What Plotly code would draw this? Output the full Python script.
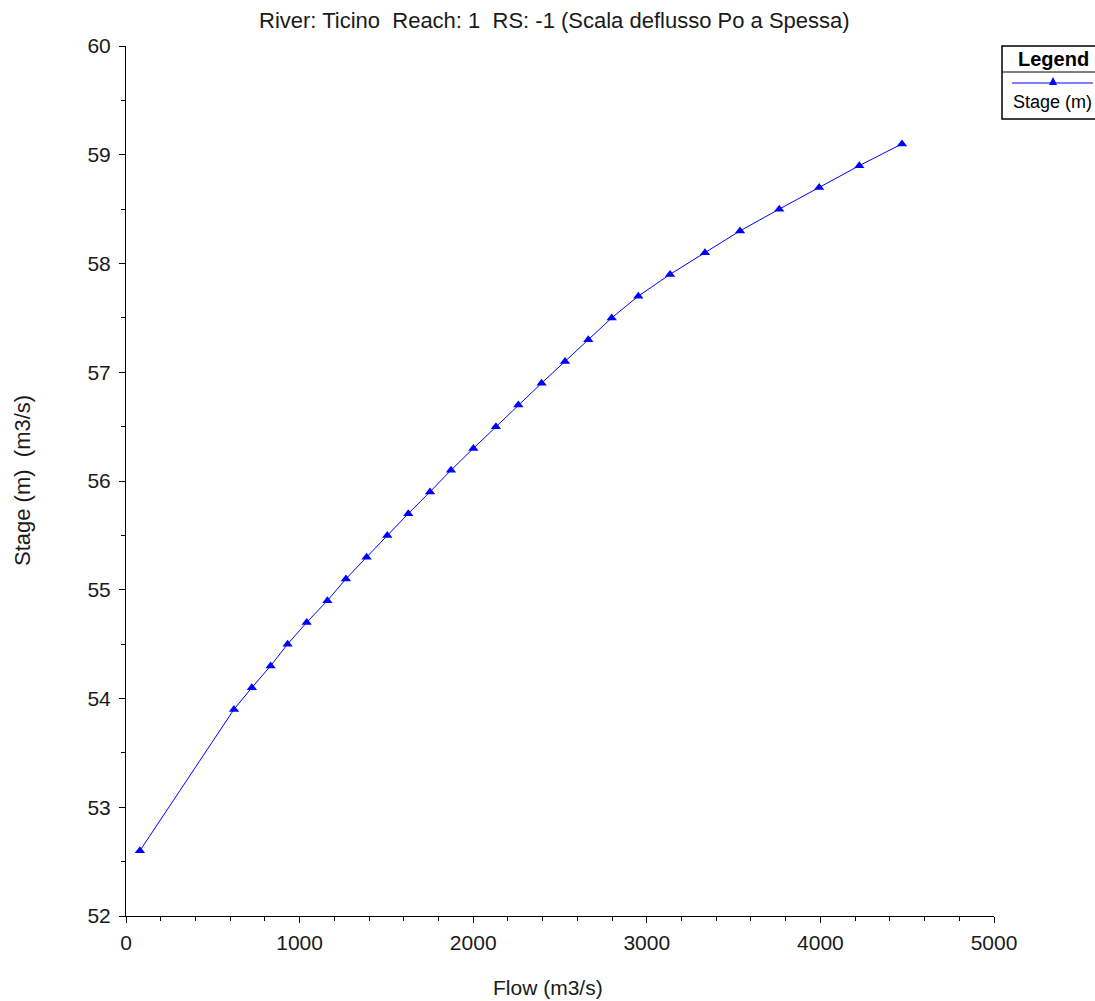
import plotly.graph_objects as go

# Rating curve at RS -1 (Ticino, reach 1)
flow = [80, 622, 725, 833, 931, 1041, 1160, 1267, 1386, 1505, 1626, 1751, 1872,
        2001, 2131, 2260, 2394, 2529, 2663, 2798, 2951, 3134, 3335, 3537, 3763,
        3993, 4224, 4470]
stage = [52.6, 53.9, 54.1, 54.3, 54.5, 54.7, 54.9, 55.1, 55.3, 55.5, 55.7, 55.9, 56.1,
         56.3, 56.5, 56.7, 56.9, 57.1, 57.3, 57.5, 57.7, 57.9, 58.1, 58.3, 58.5,
         58.7, 58.9, 59.1]

x_ticks = [0, 1000, 2000, 3000, 4000, 5000]
y_ticks = [52, 53, 54, 55, 56, 57, 58, 59, 60]

title_text = "River: Ticino\u00a0\u00a0Reach: 1\u00a0\u00a0RS: -1 (Scala deflusso Po a Spessa)"
series_name = "Stage (m)"

FONT = "Liberation Sans, Arial, sans-serif"
BLUE = "#0000FF"
TXT = "#1a1a1a"

W, H = 1095, 1001
ML, MR, MT, MB = 126, 101, 46, 85
PW = W - ML - MR
PH = H - MT - MB


def px_x(p):
    return (p - ML) / PW


def px_y(p):
    return (H - MB - p) / PH


fig = go.Figure()
fig.add_trace(go.Scatter(
    x=flow, y=stage, mode="lines+markers", name=series_name,
    line=dict(color=BLUE, width=1),
    marker=dict(symbol="triangle-up", size=9, color=BLUE),
    showlegend=False,
))

axis_common = dict(
    showgrid=False, zeroline=False, showline=True, linecolor="black", linewidth=1,
    ticks="outside", ticklen=6, tickcolor="black", tickwidth=1,
    tickfont=dict(family=FONT, size=21, color=TXT),
    mirror=False,
)

fig.update_xaxes(
    range=[0, 5000], tickvals=x_ticks, ticktext=[str(v) for v in x_ticks],
    minor=dict(dtick=200, ticks="outside", ticklen=4, tickcolor="black"),
    ticklabelstandoff=2,
    **axis_common,
)
fig.update_yaxes(
    range=[52, 60], tickvals=y_ticks, ticktext=[str(v) for v in y_ticks],
    minor=dict(dtick=0.5, ticks="outside", ticklen=4, tickcolor="black"),
    ticklabelstandoff=4,
    **axis_common,
)

annotations = [
    dict(text=title_text, x=px_x(554), y=px_y(20), xref="paper", yref="paper",
         showarrow=False, font=dict(family=FONT, size=22, color=TXT),
         xanchor="center", yanchor="middle"),
    dict(text="Flow (m3/s)", x=px_x(548), y=px_y(987), xref="paper", yref="paper",
         showarrow=False, font=dict(family=FONT, size=21, color=TXT),
         xanchor="center", yanchor="middle"),
    dict(text="Stage (m)\u00a0\u00a0(m3/s)", x=px_x(22), y=px_y(481), xref="paper",
         yref="paper", showarrow=False, textangle=-90,
         font=dict(family=FONT, size=22, color=TXT),
         xanchor="center", yanchor="middle"),
    # legend box texts
    dict(text="<b>Legend</b>", x=px_x(1053), y=px_y(59), xref="paper", yref="paper",
         showarrow=False, font=dict(family=FONT, size=20, color="black"),
         xanchor="center", yanchor="middle"),
    dict(text=series_name, x=px_x(1011), y=px_y(102), xref="paper", yref="paper",
         showarrow=False, font=dict(family=FONT, size=18, color="black"),
         xanchor="left", yanchor="middle"),
]

# legend frame, header separator and sample line with marker
tri_cx, tri_cy = px_x(1053), px_y(81)
dx, dy = 4 / PW, 4 / PH
shapes = [
    dict(type="rect", xref="paper", yref="paper", x0=px_x(1002), x1=px_x(1098),
         y0=px_y(119), y1=px_y(46), line=dict(color="black", width=1.5)),
    dict(type="line", xref="paper", yref="paper", x0=px_x(1002), x1=px_x(1098),
         y0=px_y(72), y1=px_y(72), line=dict(color="black", width=1)),
    dict(type="line", xref="paper", yref="paper", x0=px_x(1012), x1=px_x(1093),
         y0=px_y(83), y1=px_y(83), line=dict(color=BLUE, width=1)),
    dict(type="path", xref="paper", yref="paper",
         path=f"M {tri_cx - dx} {tri_cy - dy} L {tri_cx + dx} {tri_cy - dy} L {tri_cx} {tri_cy + dy} Z",
         fillcolor=BLUE, line=dict(color=BLUE, width=0)),
]

fig.update_layout(
    width=W, height=H,
    margin=dict(l=ML, r=MR, t=MT, b=MB),
    paper_bgcolor="white", plot_bgcolor="white",
    annotations=annotations, shapes=shapes,
    showlegend=False,
)

fig.write_html("out.html")
